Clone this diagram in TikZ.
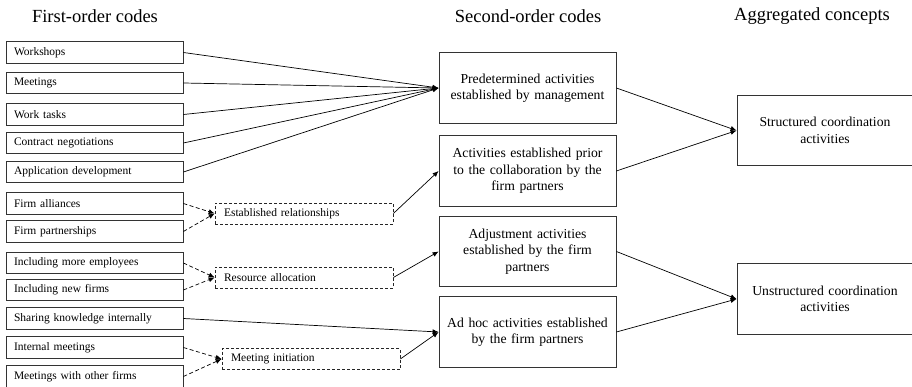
\documentclass[tikz,border=0pt]{standalone}
\usepackage{fontspec}
\setmainfont{Liberation Serif}
\usetikzlibrary{arrows.meta,positioning}

\begin{document}
\begin{tikzpicture}[x=1pt, y=-1pt,
    every node/.style={font=\fontsize{11.5}{13}\selectfont},
    heading/.style={font=\fontsize{18.5}{21}\selectfont},
    firstcode/.style={draw=black!80, line width=0.8pt, text width=161pt, inner xsep=8pt, inner ysep=0pt, minimum height=21.5pt, align=left},
    groupcode/.style={draw=black!85, line width=0.7pt, dash pattern=on 3pt off 2pt, text width=160pt, inner xsep=9pt, inner ysep=0pt, minimum height=21pt, align=left},
    secondcode/.style={draw=black!80, line width=0.8pt, text width=167pt, inner xsep=5pt, minimum height=70.5pt, align=center, font=\fontsize{13.7}{16.5}\selectfont},
    concept/.style={draw=black!80, line width=0.8pt, text width=166pt, inner xsep=5pt, minimum height=70.5pt, align=center, font=\fontsize{13.7}{16.5}\selectfont},
    link/.style={-{Latex[length=6pt,width=5pt]}, line width=0.7pt},
    dashlink/.style={link, dash pattern=on 4pt off 2.5pt}]
  \useasboundingbox (0,0) rectangle (912,387);
  \clip (0,0) rectangle (912,387);

  % column headings
  \node[heading] (h1) at (95,16) {First-order codes};
  \node[heading] (h2) at (528,16) {Second-order codes};
  \node[heading] (h3) at (812,16) {Aggregated concepts};

  % first-order codes
  \node[firstcode] (ws) at (94.5,52.5) {Workshops};
  \node[firstcode] (me) at (94.5,83) {Meetings};
  \node[firstcode] (wt) at (94.5,114.5) {Work tasks};
  \node[firstcode] (cn) at (94.5,143) {Contract negotiations};
  \node[firstcode] (ad) at (94.5,172) {Application development};
  \node[firstcode] (fa) at (94.5,203.5) {Firm alliances};
  \node[firstcode] (fp) at (94.5,231.5) {Firm partnerships};
  \node[firstcode] (ie) at (94.5,263) {Including more employees};
  \node[firstcode] (nf) at (94.5,290) {Including new firms};
  \node[firstcode] (sk) at (94.5,318.5) {Sharing knowledge internally};
  \node[firstcode] (im) at (94.5,347.5) {Internal meetings};
  \node[firstcode] (of) at (94.5,376.5) {Meetings with other firms};

  % grouped codes
  \node[groupcode] (er) at (304,213.5) {Established relationships};
  \node[groupcode] (ra) at (304,277.5) {Resource allocation};
  \node[groupcode] (mi) at (311,359) {Meeting initiation};

  % second-order codes
  \node[secondcode] (pd) at (527.5,88) {Predetermined activities\\established by management};
  \node[secondcode] (pr) at (527.5,171) {Activities established prior\\to the collaboration by the\\firm partners};
  \node[secondcode] (aj) at (527.5,251.5) {Adjustment activities\\established by the firm\\partners};
  \node[secondcode] (ah) at (527.5,332) {Ad hoc activities established\\by the firm partners};

  % aggregated concepts
  \node[concept] (sc) at (825,130.5) {Structured coordination\\activities};
  \node[concept] (uc) at (825,299) {Unstructured coordination\\activities};

  % links
  \draw[link] (ws.east) -- (pd.west);
  \draw[link] (me.east) -- (pd.west);
  \draw[link] (wt.east) -- (pd.west);
  \draw[link] (cn.east) -- (pd.west);
  \draw[link] (ad.east) -- (pd.west);
  \draw[dashlink] (fa.east) -- (er.west);
  \draw[dashlink] (fp.east) -- (er.west);
  \draw[dashlink] (ie.east) -- (ra.west);
  \draw[dashlink] (nf.east) -- (ra.west);
  \draw[dashlink] (im.east) -- (mi.west);
  \draw[dashlink] (of.east) -- (mi.west);
  \draw[link] (er.east) -- (pr.west);
  \draw[link] (ra.east) -- (aj.west);
  \draw[link] (sk.east) -- (ah.west);
  \draw[link] (mi.east) -- (ah.west);
  \draw[link] (pd.east) -- (sc.west);
  \draw[link] (pr.east) -- (sc.west);
  \draw[link] (aj.east) -- (uc.west);
  \draw[link] (ah.east) -- (uc.west);
\end{tikzpicture}
\end{document}
